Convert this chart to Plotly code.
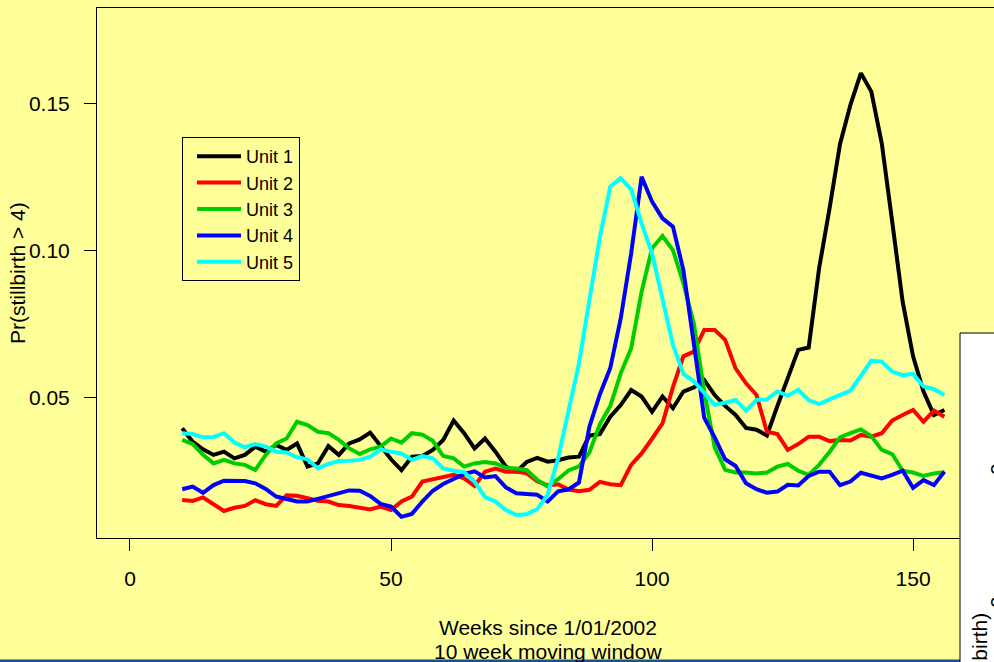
import plotly.graph_objects as go

# ---- data ----
weeks = list(range(10, 157, 2))

unit1 = [0.0395, 0.0349, 0.0323, 0.0304, 0.0315, 0.0292, 0.0304, 0.0332, 0.0315, 0.0338,
         0.0321, 0.0343, 0.0264, 0.0275, 0.0334, 0.0304, 0.0343, 0.0357, 0.0380, 0.0332,
         0.0289, 0.0252, 0.0298, 0.0300, 0.0321, 0.0355, 0.0421, 0.0378, 0.0326, 0.0360,
         0.0315, 0.0264, 0.0247, 0.0280, 0.0294, 0.0281, 0.0286, 0.0295, 0.0298, 0.0370,
         0.0375, 0.0434, 0.0474, 0.0525, 0.0503, 0.0451, 0.0503, 0.0463, 0.0520, 0.0534,
         0.0559, 0.0508, 0.0471, 0.0440, 0.0396, 0.0390, 0.0370, 0.0470, 0.0562, 0.0662,
         0.0670, 0.0940, 0.1144, 0.1363, 0.1497, 0.1605, 0.1542, 0.1366, 0.1099, 0.0826,
         0.0640, 0.0520, 0.0440, 0.0457]

unit2 = [0.0150, 0.0147, 0.0159, 0.0137, 0.0113, 0.0124, 0.0130, 0.0150, 0.0136, 0.0130,
         0.0166, 0.0165, 0.0156, 0.0148, 0.0145, 0.0133, 0.0130, 0.0125, 0.0118, 0.0128,
         0.0116, 0.0145, 0.0162, 0.0213, 0.0221, 0.0230, 0.0236, 0.0224, 0.0198, 0.0247,
         0.0257, 0.0247, 0.0247, 0.0241, 0.0214, 0.0200, 0.0204, 0.0186, 0.0180, 0.0185,
         0.0212, 0.0204, 0.0201, 0.0270, 0.0309, 0.0359, 0.0411, 0.0535, 0.0640, 0.0656,
         0.0730, 0.0730, 0.0696, 0.0599, 0.0548, 0.0508, 0.0383, 0.0375, 0.0321, 0.0341,
         0.0366, 0.0366, 0.0351, 0.0355, 0.0353, 0.0372, 0.0366, 0.0378, 0.0421, 0.0440,
         0.0457, 0.0417, 0.0455, 0.0434]

unit3 = [0.0355, 0.0341, 0.0304, 0.0275, 0.0287, 0.0275, 0.0270, 0.0253, 0.0304, 0.0343,
         0.0360, 0.0417, 0.0406, 0.0383, 0.0378, 0.0355, 0.0326, 0.0307, 0.0323, 0.0332,
         0.0360, 0.0346, 0.0378, 0.0373, 0.0352, 0.0300, 0.0292, 0.0264, 0.0275, 0.0280,
         0.0275, 0.0260, 0.0258, 0.0252, 0.0219, 0.0197, 0.0221, 0.0251, 0.0265, 0.0312,
         0.0408, 0.0471, 0.0582, 0.0667, 0.0860, 0.1008, 0.1050, 0.1002, 0.0889, 0.0752,
         0.0520, 0.0330, 0.0253, 0.0244, 0.0244, 0.0241, 0.0244, 0.0264, 0.0273, 0.0250,
         0.0236, 0.0270, 0.0314, 0.0364, 0.0378, 0.0391, 0.0368, 0.0321, 0.0307, 0.0250,
         0.0244, 0.0232, 0.0241, 0.0245]

unit4 = [0.0187, 0.0196, 0.0175, 0.0201, 0.0216, 0.0214, 0.0215, 0.0207, 0.0188, 0.0162,
         0.0155, 0.0145, 0.0145, 0.0154, 0.0162, 0.0173, 0.0183, 0.0182, 0.0164, 0.0137,
         0.0128, 0.0093, 0.0103, 0.0145, 0.0182, 0.0205, 0.0222, 0.0239, 0.0248, 0.0227,
         0.0232, 0.0193, 0.0173, 0.0172, 0.0168, 0.0145, 0.0180, 0.0186, 0.0210, 0.0400,
         0.0510, 0.0600, 0.0769, 0.0991, 0.1252, 0.1167, 0.1110, 0.1082, 0.0934, 0.0684,
         0.0430, 0.0364, 0.0289, 0.0266, 0.0207, 0.0187, 0.0175, 0.0179, 0.0202, 0.0200,
         0.0232, 0.0247, 0.0247, 0.0201, 0.0213, 0.0243, 0.0232, 0.0224, 0.0236, 0.0250,
         0.0192, 0.0218, 0.0201, 0.0247]

unit5 = [0.0378, 0.0375, 0.0364, 0.0365, 0.0378, 0.0346, 0.0330, 0.0341, 0.0332, 0.0315,
         0.0312, 0.0296, 0.0289, 0.0258, 0.0273, 0.0283, 0.0284, 0.0287, 0.0298, 0.0323,
         0.0315, 0.0309, 0.0287, 0.0300, 0.0292, 0.0258, 0.0250, 0.0245, 0.0213, 0.0160,
         0.0145, 0.0116, 0.0099, 0.0102, 0.0119, 0.0168, 0.0292, 0.0460, 0.0616, 0.0832,
         0.1045, 0.1218, 0.1248, 0.1209, 0.1093, 0.0991, 0.0837, 0.0680, 0.0580, 0.0555,
         0.0515, 0.0475, 0.0482, 0.0491, 0.0455, 0.0491, 0.0493, 0.0520, 0.0506, 0.0526,
         0.0491, 0.0477, 0.0493, 0.0508, 0.0523, 0.0573, 0.0625, 0.0622, 0.0588, 0.0576,
         0.0580, 0.0537, 0.0528, 0.0508]

series_names = ["Unit 1", "Unit 2", "Unit 3", "Unit 4", "Unit 5"]
series_values = [unit1, unit2, unit3, unit4, unit5]
series_colors = ["#000000", "#FF0000", "#00CD00", "#0000FF", "#00FFFF"]

x_ticks = [0, 50, 100, 150]
y_ticks = [0.05, 0.10, 0.15]
y_tick_labels = ["0.05", "0.10", "0.15"]

BG = "#FFFF99"
FONT = "Liberation Sans, Arial, sans-serif"

fig = go.Figure()
for name, vals, col in zip(series_names, series_values, series_colors):
    fig.add_trace(go.Scatter(x=weeks, y=vals, mode="lines", name=name,
                             line=dict(color=col, width=4)))

W, H = 994, 662
L, R, T, B = 97, 0, 8, 124
pw, ph = W - L - R, H - T - B


def px(xp):
    return (xp - L) / pw


def py(yp):
    return (H - B - yp) / ph


fig.update_layout(
    width=W, height=H,
    margin=dict(l=L, r=R, t=T, b=B, pad=0),
    paper_bgcolor=BG, plot_bgcolor=BG,
    font=dict(family=FONT, size=21, color="#000000"),
    showlegend=True,
    legend=dict(x=px(182), y=py(137), xanchor="left", yanchor="top",
                bordercolor="#000000", borderwidth=1, bgcolor=BG,
                font=dict(family=FONT, size=18, color="#000000"),
                tracegroupgap=0, indentation=9, itemwidth=44),
    xaxis=dict(range=[-6.32, 165.5], tickvals=x_ticks, ticks="outside", ticklen=12,
               tickwidth=1, tickcolor="#000000", showgrid=False, zeroline=False,
               showline=True, linecolor="#000000", linewidth=1, mirror=True,
               ticklabelstandoff=10, tickfont=dict(size=21)),
    yaxis=dict(range=[0.00208, 0.1827], tickvals=y_ticks, ticktext=y_tick_labels,
               ticks="outside", ticklen=12, tickwidth=1, tickcolor="#000000",
               showgrid=False, zeroline=False, showline=True, linecolor="#000000",
               linewidth=1, mirror=False, ticklabelstandoff=10, tickfont=dict(size=21)),
)

# axis titles
fig.add_annotation(text="Weeks since 1/01/2002", xref="paper", yref="paper",
                   x=px(548), y=py(627), xanchor="center", yanchor="middle",
                   showarrow=False, font=dict(size=21))
fig.add_annotation(text="10 week moving window", xref="paper", yref="paper",
                   x=px(548), y=py(651), xanchor="center", yanchor="middle",
                   showarrow=False, font=dict(size=21))
fig.add_annotation(text="Pr(stillbirth > 4)", xref="paper", yref="paper",
                   x=px(17), y=py(273), xanchor="center", yanchor="middle",
                   textangle=-90, showarrow=False, font=dict(size=21))

# slide elements around the chart: bottom rule and the edge of a neighbouring panel
fig.add_shape(type="rect", xref="paper", yref="paper",
              x0=px(-5), x1=px(960), y0=py(666), y1=py(659.5),
              fillcolor="#1B4F8E", line=dict(width=0), layer="above")
fig.add_shape(type="rect", xref="paper", yref="paper",
              x0=px(960), x1=px(1010), y0=py(680), y1=py(333),
              fillcolor="#FFFFFF", line=dict(color="#000000", width=1), layer="above")
fig.add_annotation(text="Pr(stillbirth)", xref="paper", yref="paper",
                   x=px(979), y=py(611), xanchor="center", yanchor="top",
                   textangle=-90, showarrow=False, font=dict(size=21))
for yy in (469, 602):
    fig.add_annotation(text="0", xref="paper", yref="paper",
                       x=px(997), y=py(yy), xanchor="center", yanchor="middle",
                       textangle=-90, showarrow=False, font=dict(size=21))

fig.write_html("out.html")
